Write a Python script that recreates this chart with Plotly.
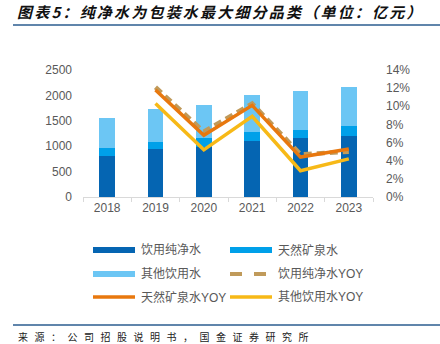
import plotly.graph_objects as go

# 包装水细分品类规模（亿元）及增速
years = ["2018", "2019", "2020", "2021", "2022", "2023"]
pure_water = [810, 945, 990, 1105, 1155, 1200]
mineral_water = [160, 145, 180, 170, 165, 200]
other_water = [585, 640, 650, 730, 765, 775]

pure_yoy = [None, 0.121, 0.072, 0.103, 0.047, 0.050]
mineral_yoy = [None, 0.118, 0.068, 0.101, 0.044, 0.053]
other_yoy = [None, 0.103, 0.052, 0.089, 0.029, 0.042]

bar_names = ["饮用纯净水", "天然矿泉水", "其他饮用水"]
line_names = ["饮用纯净水YOY", "天然矿泉水YOY", "其他饮用水YOY"]

C_PURE = "#0565B2"
C_MINERAL = "#00A0E9"
C_OTHER = "#6CC6F4"
C_PURE_YOY = "#C09A5A"
C_MINERAL_YOY = "#E8780E"
C_OTHER_YOY = "#F7B917"
GREY = "#595959"

W, H = 440, 344
L, R, T, B = 83, 373, 70, 197  # plot area in pixels


def px(x):
    return (x - L) / (R - L)


def py(y):
    return (B - y) / (B - T)


fig = go.Figure()
for name, vals, col in zip(bar_names, [pure_water, mineral_water, other_water],
                           [C_PURE, C_MINERAL, C_OTHER]):
    fig.add_trace(go.Bar(x=years, y=vals, name=name, marker_color=col,
                         marker_line_width=0, width=0.32, showlegend=False))

line_styles = [
    (pure_yoy, C_PURE_YOY, 4.5, "8px,5px"),
    (mineral_yoy, C_MINERAL_YOY, 3.5, "solid"),
    (other_yoy, C_OTHER_YOY, 3.5, "solid"),
]
for name, (vals, col, w, dash) in zip(line_names, line_styles):
    fig.add_trace(go.Scatter(x=years, y=vals, name=name, yaxis="y2", mode="lines",
                             line=dict(color=col, width=w, dash=dash),
                             showlegend=False))

# legend drawn as shapes + labels, two columns
legend_items = [
    (bar_names[0], C_PURE, 6, "solid"),
    (bar_names[1], C_MINERAL, 6, "solid"),
    (bar_names[2], C_OTHER, 6, "solid"),
    (line_names[0], C_PURE_YOY, 4, "dash"),
    (line_names[1], C_MINERAL_YOY, 3.5, "solid"),
    (line_names[2], C_OTHER_YOY, 3.5, "solid"),
]
rows_y = [250, 274, 297]
cols_x = [93, 230]
shapes = []
annotations = []
for i, (label, col, w, dash) in enumerate(legend_items):
    yy = rows_y[i // 2]
    xx = cols_x[i % 2]
    shapes.append(dict(type="line", xref="paper", yref="paper",
                       x0=px(xx), x1=px(xx + 42), y0=py(yy), y1=py(yy),
                       line=dict(color=col, width=w, dash=dash)))
    annotations.append(dict(text=label, xref="paper", yref="paper",
                            x=px(xx + 46), y=py(yy), xanchor="left", yanchor="middle",
                            showarrow=False, font=dict(size=12, color=GREY)))

# header and footer rules
shapes.append(dict(type="line", xref="paper", yref="paper",
                   x0=px(13), x1=px(440), y0=py(25), y1=py(25),
                   line=dict(color="#2B5C8F", width=1.5)))
shapes.append(dict(type="line", xref="paper", yref="paper",
                   x0=px(13), x1=px(440), y0=py(325), y1=py(325),
                   line=dict(color="#2B5C8F", width=1.5)))

annotations.append(dict(
    text='<span style="letter-spacing:2.2px"><b><i>图表5：纯净水为包装水最大细分品类（单位：亿元）</i></b></span>',
    xref="paper", yref="paper", x=px(15), y=py(12), xanchor="left", yanchor="middle",
    showarrow=False, font=dict(size=15, color="#111111", family="Noto Sans CJK SC")))
annotations.append(dict(
    text='<span style="letter-spacing:6.5px">来源：公司招股说明书，国金证券研究所</span>',
    xref="paper", yref="paper", x=px(16), y=py(336.5), xanchor="left", yanchor="middle",
    showarrow=False, font=dict(size=10, color="#222222", family="Noto Sans CJK SC")))

fig.update_layout(
    width=W, height=H,
    margin=dict(l=L, r=W - R, t=T, b=H - B, pad=0),
    paper_bgcolor="white", plot_bgcolor="white",
    barmode="stack", bargap=0,
    font=dict(family="Liberation Sans, Arial, Noto Sans CJK SC", size=12, color=GREY),
    showlegend=False,
    xaxis=dict(type="category", range=[-0.5, 5.5], showline=True, linecolor="#D9D9D9",
               linewidth=1, ticks="outside", tickson="boundaries", ticklen=4,
               tickcolor="#D9D9D9", showgrid=False, tickfont=dict(size=12, color=GREY)),
    yaxis=dict(range=[0, 2500], dtick=500, showgrid=False, zeroline=False,
               showline=False, ticks="", ticklabelstandoff=10,
               tickfont=dict(size=12, color=GREY)),
    yaxis2=dict(range=[0, 0.14], dtick=0.02, tickformat=".0%", overlaying="y",
                side="right", showgrid=False, zeroline=False, showline=False,
                ticks="", ticklabelstandoff=12, tickfont=dict(size=12, color=GREY)),
    shapes=shapes,
    annotations=annotations,
)

fig.write_html("out.html")
